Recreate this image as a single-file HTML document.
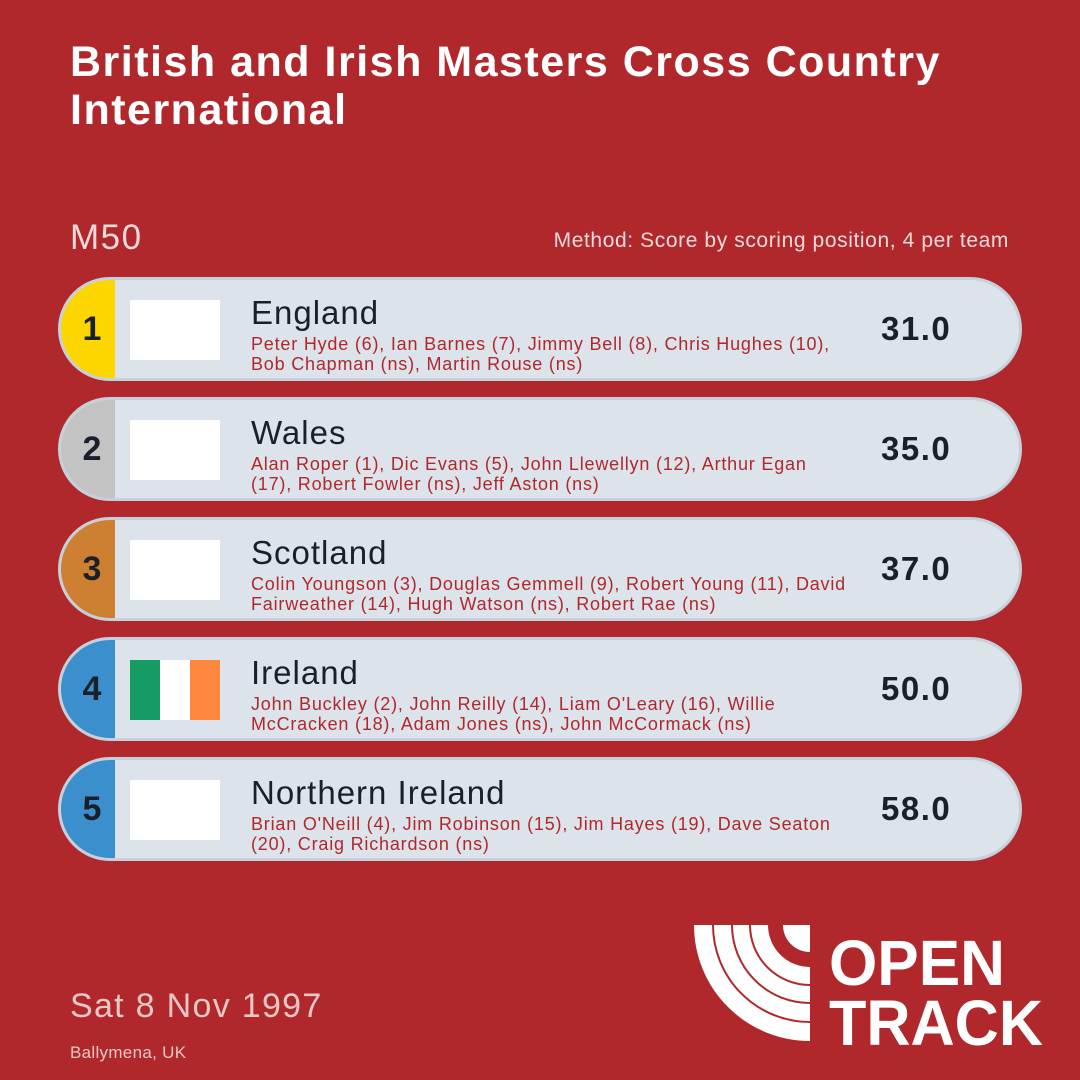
<!DOCTYPE html>
<html><head><meta charset="utf-8"><style>
body{margin:0;width:1080px;height:1080px;background:#b0282b;font-family:"Liberation Sans",sans-serif;position:relative;overflow:hidden}
.t{position:absolute;left:70px;top:38px;color:#fff;font-weight:bold;font-size:43px;line-height:48px;width:990px;letter-spacing:1.5px}
.m50{position:absolute;left:70px;top:218px;color:#f3dada;font-size:35px;letter-spacing:1.5px}
.meth{position:absolute;right:71px;top:229px;color:#f3dada;font-size:21px;letter-spacing:0.6px}
.row{position:absolute;left:58px;width:958px;height:98px;background:#dce3ea;border:3px solid #c5d0da;border-radius:52px;overflow:hidden}
.b{position:absolute;left:0;top:0;width:54px;height:98px;font-weight:bold;font-size:34px;color:#1a1f2a;line-height:98px;text-align:center;padding-left:8px;box-sizing:border-box}
.f{position:absolute;left:69px;top:20px;width:90px;height:60px;background:#fff}
.n{position:absolute;left:190px;top:15px;font-size:33px;letter-spacing:1px;color:#1a1f2a;line-height:36px}
.a{position:absolute;left:190px;top:54px;width:582px;font-size:18px;letter-spacing:0.8px;line-height:20px;color:#b0282b}
.s{position:absolute;left:820px;top:0;line-height:98px;font-size:33px;letter-spacing:1.5px;font-weight:bold;color:#1a1f2a}
.date{position:absolute;left:70px;top:987px;font-size:34px;letter-spacing:1.3px;color:#e8c6c6}
.loc{position:absolute;left:70px;top:1043px;font-size:17px;letter-spacing:0.3px;color:#e8c6c6}
</style></head><body>
<div class="t">British and Irish Masters Cross Country International</div>
<div class="m50">M50</div>
<div class="meth">Method: Score by scoring position, 4 per team</div>

<div class="row" style="top:277px"><div class="b" style="background:#fdd600">1</div><div class="f"></div><div class="n">England</div><div class="a">Peter Hyde (6), Ian Barnes (7), Jimmy Bell (8), Chris Hughes (10), Bob Chapman (ns), Martin Rouse (ns)</div><div class="s">31.0</div></div>
<div class="row" style="top:397px"><div class="b" style="background:#c3c3c3">2</div><div class="f"></div><div class="n">Wales</div><div class="a">Alan Roper (1), Dic Evans (5), John Llewellyn (12), Arthur Egan (17), Robert Fowler (ns), Jeff Aston (ns)</div><div class="s">35.0</div></div>
<div class="row" style="top:517px"><div class="b" style="background:#cd7f32">3</div><div class="f"></div><div class="n">Scotland</div><div class="a" style="width:615px">Colin Youngson (3), Douglas Gemmell (9), Robert Young (11), David Fairweather (14), Hugh Watson (ns), Robert Rae (ns)</div><div class="s">37.0</div></div>
<div class="row" style="top:637px"><div class="b" style="background:#3a8fcc">4</div><div class="f" style="background:linear-gradient(90deg,#169b62 0 33.3%,#fff 33.3% 66.6%,#ff883e 66.6%)"></div><div class="n">Ireland</div><div class="a">John Buckley (2), John Reilly (14), Liam O'Leary (16), Willie McCracken (18), Adam Jones (ns), John McCormack (ns)</div><div class="s">50.0</div></div>
<div class="row" style="top:757px"><div class="b" style="background:#3a8fcc">5</div><div class="f"></div><div class="n">Northern Ireland</div><div class="a">Brian O'Neill (4), Jim Robinson (15), Jim Hayes (19), Dave Seaton (20), Craig Richardson (ns)</div><div class="s">58.0</div></div>

<div class="date">Sat 8 Nov 1997</div>
<div class="loc">Ballymena, UK</div>

<svg style="position:absolute;left:0;top:0" width="1080" height="1080">
<g fill="none" stroke="#fff">
<path d="M703 925 A107 107 0 0 0 810 1032" stroke-width="18"/>
<path d="M722.5 925 A87.5 87.5 0 0 0 810 1012.5" stroke-width="17"/>
<path d="M741 925 A69 69 0 0 0 810 994" stroke-width="16"/>
<path d="M759.5 925 A50.5 50.5 0 0 0 810 975.5" stroke-width="17"/>
</g>
<path d="M783 925 A27 27 0 0 0 810 952 L810 925Z" fill="#fff"/>
<text x="829" y="985" fill="#fff" font-weight="bold" font-size="64" textLength="176" lengthAdjust="spacingAndGlyphs">OPEN</text>
<text x="829" y="1045" fill="#fff" font-weight="bold" font-size="64" textLength="214" lengthAdjust="spacingAndGlyphs">TRACK</text>
</svg>
</body></html>
